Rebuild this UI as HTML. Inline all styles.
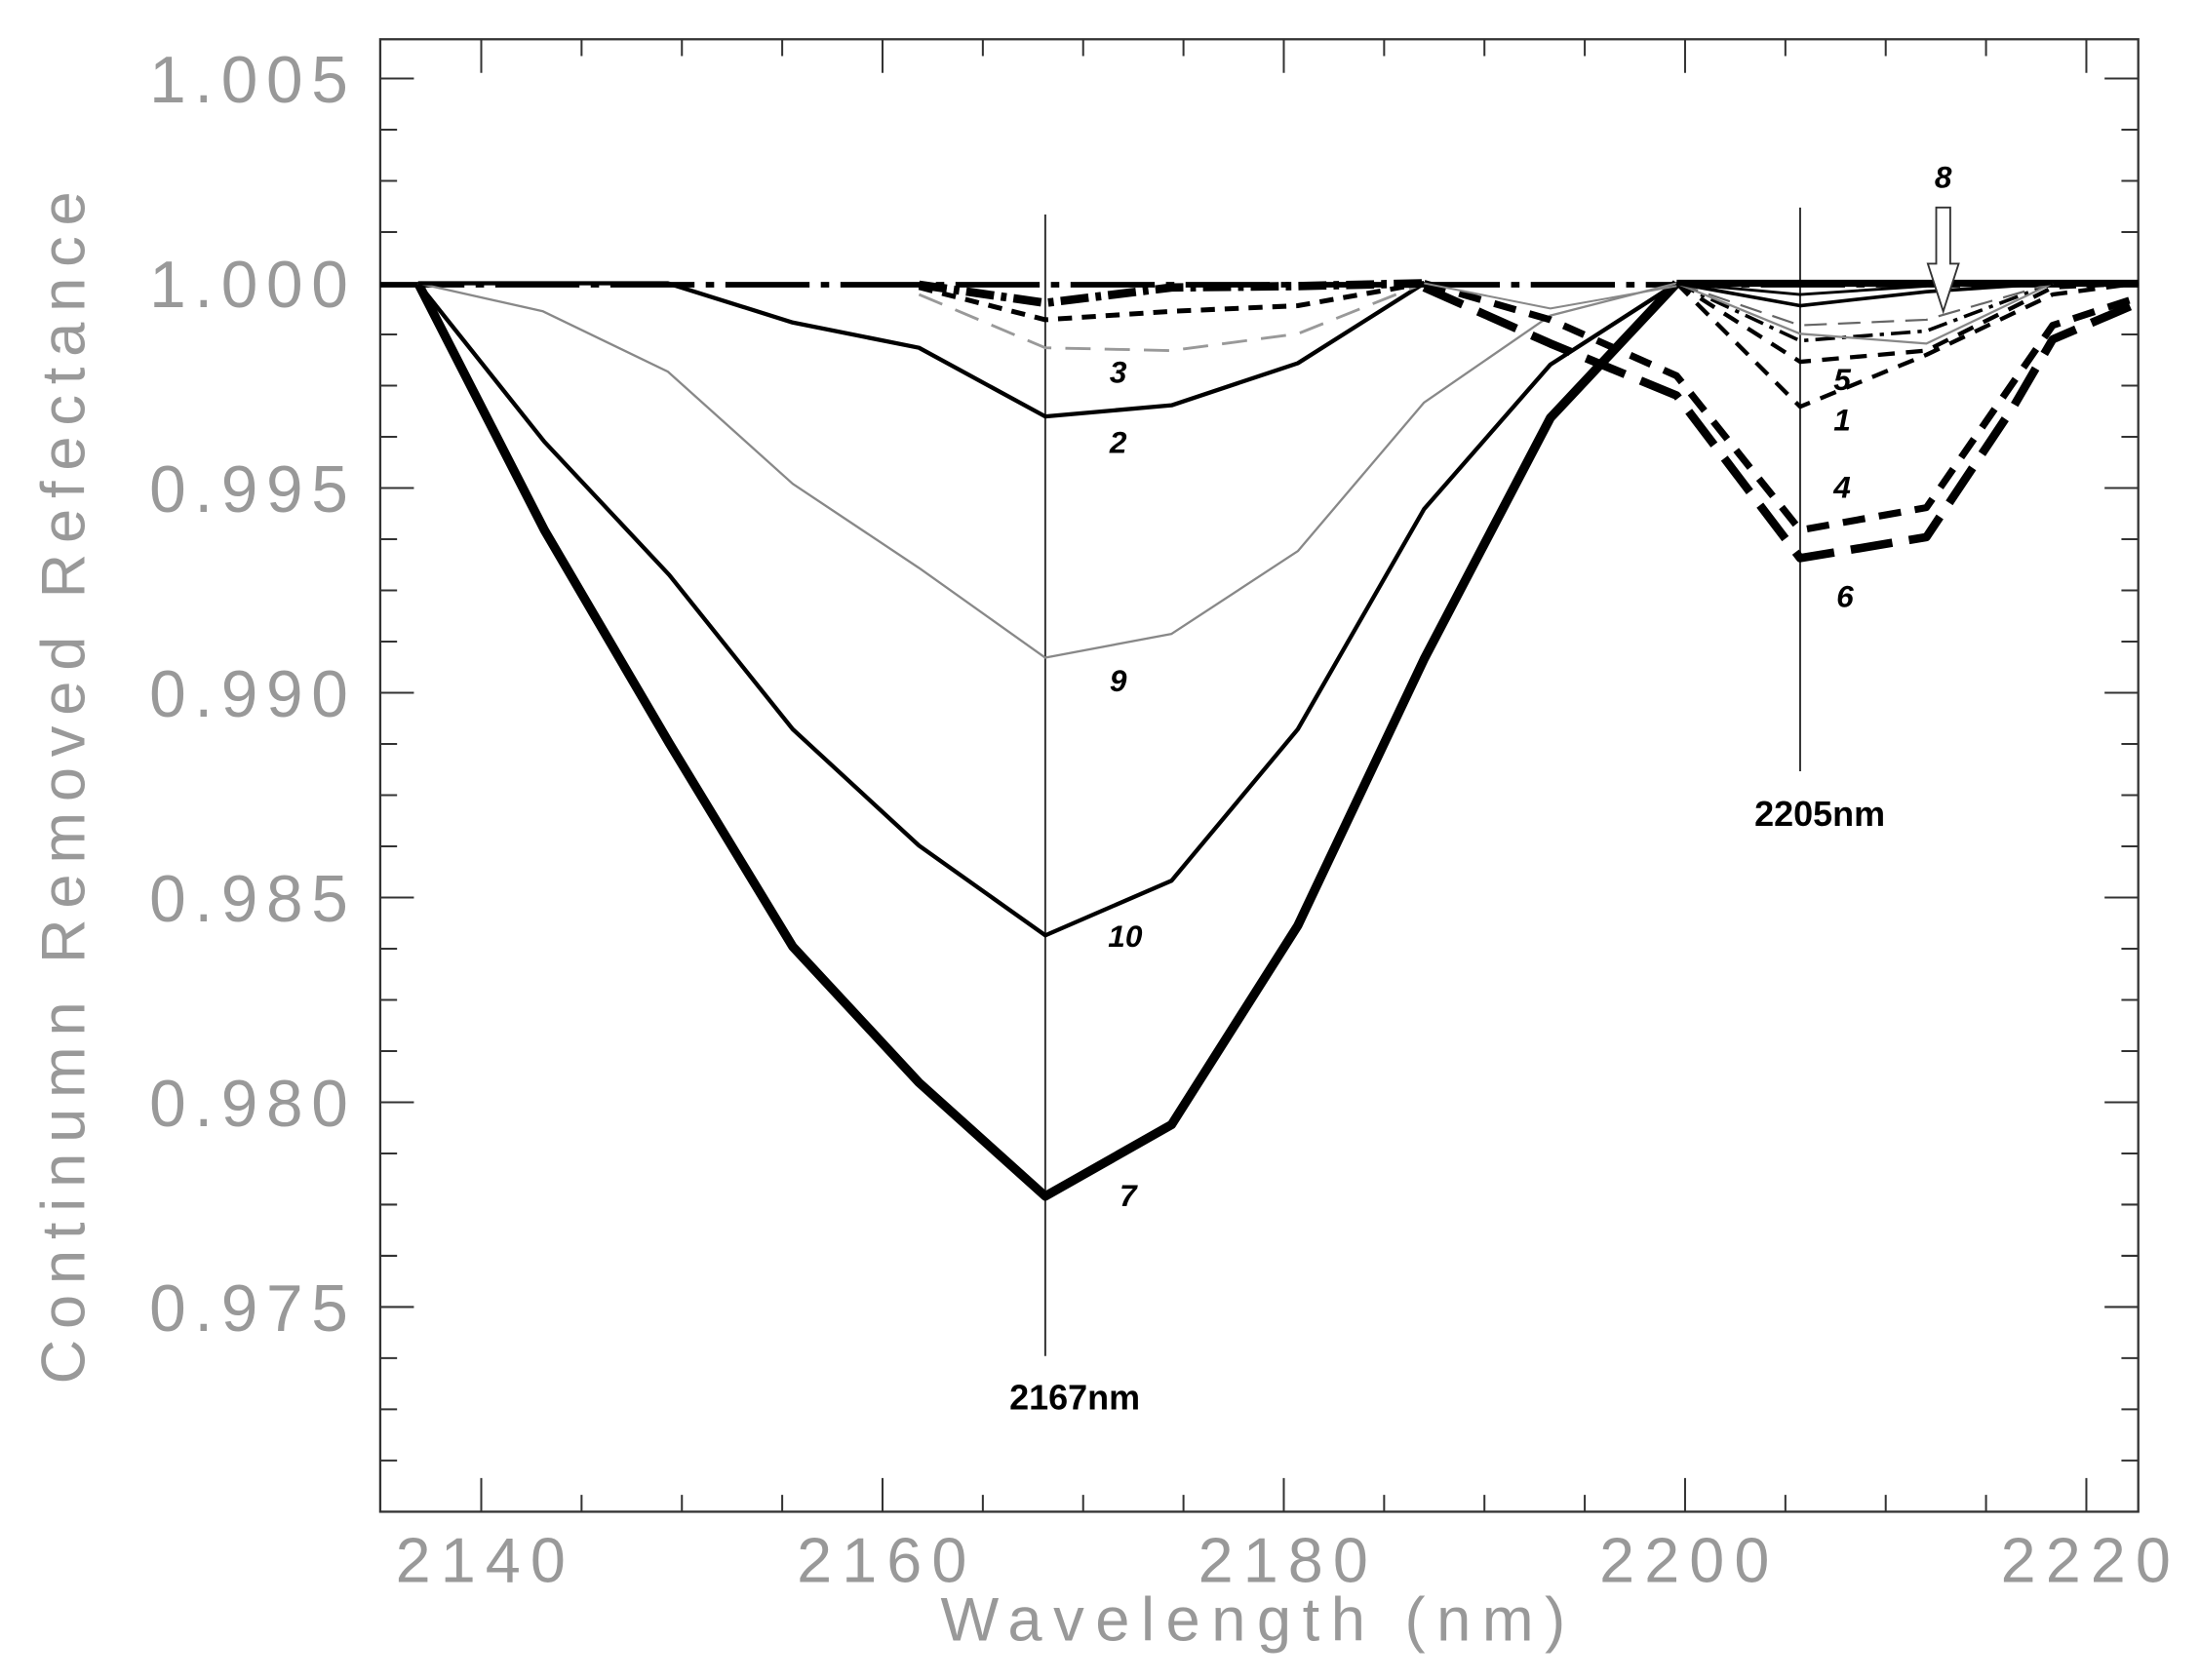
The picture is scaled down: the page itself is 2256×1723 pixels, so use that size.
<!DOCTYPE html>
<html><head><meta charset="utf-8"><style>
html,body{margin:0;padding:0;background:#fff;}
svg{display:block;}
</style></head><body>
<svg width="2256" height="1723" viewBox="0 0 1568 1198" preserveAspectRatio="none" xmlns="http://www.w3.org/2000/svg">
<rect width="1568" height="1198" fill="#fff"/>
<rect x="271" y="28" width="1253" height="1050" fill="none" stroke="#333" stroke-width="1.6"/>
<g stroke="#333" stroke-width="1.4">
<path d="
M271,56h24 M271,92.5h12 M271,129h12 M271,165.5h12 M271,202h24 M271,238.5h12 M271,275h12 M271,311.5h12 M271,348h24 M271,384.5h12 M271,421h12 M271,457.5h12 M271,494h24 M271,530.5h12 M271,567h12 M271,603.5h12 M271,640h24 M271,676.5h12 M271,713h12 M271,749.5h12 M271,786h24 M271,822.5h12 M271,859h12 M271,895.5h12 M271,932h24 M271,968.5h12 M271,1005h12 M271,1041.5h12
M1524,56h-24 M1524,92.5h-12 M1524,129h-12 M1524,165.5h-12 M1524,202h-24 M1524,238.5h-12 M1524,275h-12 M1524,311.5h-12 M1524,348h-24 M1524,384.5h-12 M1524,421h-12 M1524,457.5h-12 M1524,494h-24 M1524,530.5h-12 M1524,567h-12 M1524,603.5h-12 M1524,640h-24 M1524,676.5h-12 M1524,713h-12 M1524,749.5h-12 M1524,786h-24 M1524,822.5h-12 M1524,859h-12 M1524,895.5h-12 M1524,932h-24 M1524,968.5h-12 M1524,1005h-12 M1524,1041.5h-12
"/>
<path d="
M343,1078v-24 M414.5,1078v-12 M486,1078v-12 M557.5,1078v-12 M629,1078v-24 M700.5,1078v-12 M772,1078v-12 M843.5,1078v-12 M915,1078v-24 M986.5,1078v-12 M1058,1078v-12 M1129.5,1078v-12 M1201,1078v-24 M1272.5,1078v-12 M1344,1078v-12 M1415.5,1078v-12 M1487,1078v-24
M343,28v24 M414.5,28v12 M486,28v12 M557.5,28v12 M629,28v24 M700.5,28v12 M772,28v12 M843.5,28v12 M915,28v24 M986.5,28v12 M1058,28v12 M1129.5,28v12 M1201,28v24 M1272.5,28v12 M1344,28v12 M1415.5,28v12 M1487,28v24
"/>
</g>
<g font-family="Liberation Sans, sans-serif" fill="#999" font-size="47" text-anchor="end" letter-spacing="6">
<text x="254" y="73">1.005</text>
<text x="254" y="219">1.000</text>
<text x="254" y="365">0.995</text>
<text x="254" y="511">0.990</text>
<text x="254" y="657">0.985</text>
<text x="254" y="803">0.980</text>
<text x="254" y="949">0.975</text>
</g>
<g font-family="Liberation Sans, sans-serif" fill="#999" font-size="45" text-anchor="middle" letter-spacing="7">
<text x="346" y="1128">2140</text>
<text x="632" y="1128">2160</text>
<text x="918" y="1128">2180</text>
<text x="1204" y="1128">2200</text>
<text x="1490" y="1128">2220</text>
<text x="897" y="1170" font-size="44" letter-spacing="8">Wavelength (nm)</text>
<text transform="translate(60,558) rotate(-90)" font-size="44" letter-spacing="7.5">Continumn Removed Refectance</text>
</g>
<path d="M745,153V967 M1283,148V550" stroke="#333" stroke-width="1.4"/>
<path d="M271,203H1524" stroke="#000" stroke-width="4" stroke-dasharray="60,8,6,8"/>
<path d="M1195,202H1524" stroke="#000" stroke-width="5"/>
<g fill="none" stroke-linejoin="round">
<polyline stroke="#000" stroke-width="6.5" points="298,202 388,378 477,530 565,675 655,772 745,853 835,802 925,660 1015,470 1105,298 1195,202"/>
<polyline stroke="#000" stroke-width="3" points="298,202 388,315 477,410 565,520 655,603 745,667 835,628 925,520 1015,363 1105,260 1195,202"/>
<polyline stroke="#888" stroke-width="1.6" points="298,202 387,222 476,265 565,345 655,405 745,469 835,452 925,393 1015,287 1105,225 1195,202"/>
<polyline stroke="#000" stroke-width="3" points="298,202 476,202 565,230 655,248 745,297 835,289 925,259 1015,202"/>
<polyline stroke="#999" stroke-width="2" stroke-dasharray="18,10" points="655,210 745,248 835,250 925,238 1015,202"/>
<polyline stroke="#000" stroke-width="3.5" stroke-dasharray="10,7" points="655,205 745,228 835,222 925,218 1015,202"/>
<polyline stroke="#000" stroke-width="6" stroke-dasharray="20,5,4,5" points="655,203 745,216 835,205 925,204 1015,202"/>
<polyline stroke="#000" stroke-width="6" stroke-dasharray="30,12" points="1015,205 1105,245 1195,282 1283,398 1373,383 1435,290 1463,242 1524,216"/>
<polyline stroke="#000" stroke-width="5" stroke-dasharray="16,10" points="1015,202 1105,228 1195,268 1283,378 1373,362 1463,232 1524,212"/>
<polyline stroke="#000" stroke-width="3" stroke-dasharray="12,8" points="1195,202 1283,290 1373,253 1463,210 1524,202"/>
<polyline stroke="#000" stroke-width="3" stroke-dasharray="12,8" points="1195,202 1283,258 1373,250 1463,205 1524,202"/>
<polyline stroke="#000" stroke-width="2.5" stroke-dasharray="14,5,3,5" points="1195,202 1283,243 1373,236 1463,202"/>
<polyline stroke="#888" stroke-width="1.6" points="1195,202 1283,238 1373,245 1463,202"/>
<polyline stroke="#666" stroke-width="1.5" stroke-dasharray="16,8" points="1195,202 1283,232 1373,228 1463,202"/>
<polyline stroke="#000" stroke-width="2.5" points="1195,202 1283,218 1373,208 1463,202"/>
<polyline stroke="#000" stroke-width="2" points="1195,202 1283,210 1373,204"/>
<polyline stroke="#888" stroke-width="1.4" points="1015,202 1105,220 1195,204"/>
</g>
<path d="M1380,148H1390V188H1396L1385,222L1374,188H1380Z" fill="#fff" stroke="#333" stroke-width="1.3"/>
<g font-family="Liberation Sans, sans-serif" font-weight="bold" fill="#000">
<text x="766" y="1005" font-size="25" text-anchor="middle">2167nm</text>
<text x="1297" y="589" font-size="25" text-anchor="middle">2205nm</text>
</g>
<g font-family="Liberation Sans, sans-serif" font-weight="bold" font-style="italic" font-size="22" fill="#000" text-anchor="middle">
<text x="797" y="273">3</text>
<text x="797" y="323">2</text>
<text x="797" y="493">9</text>
<text x="802" y="675">10</text>
<text x="804" y="860">7</text>
<text x="1385" y="134">8</text>
<text x="1313" y="278">5</text>
<text x="1313" y="307">1</text>
<text x="1313" y="355">4</text>
<text x="1315" y="433">6</text>
</g>
</svg>
</body></html>
